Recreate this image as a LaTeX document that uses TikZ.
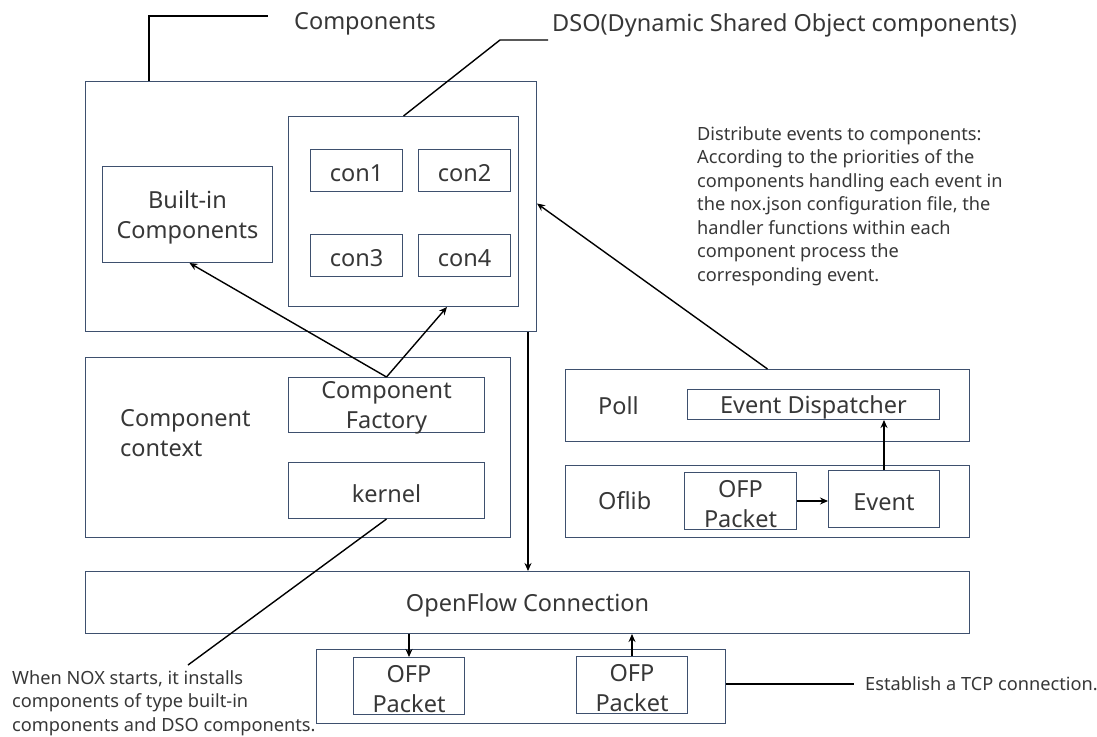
\documentclass[tikz,border=0pt]{standalone}
\usepackage{fontspec}
\setmainfont{Noto Sans}
\usetikzlibrary{arrows.meta,calc}
\definecolor{boxc}{RGB}{62,80,110}
\definecolor{txtc}{RGB}{55,55,55}
\begin{document}
\begin{tikzpicture}[x=1pt,y=-1pt,
  bx/.style={draw=boxc,line width=1pt,inner sep=0pt,anchor=north west},
  lbl/.style={inner sep=0pt,text=txtc,font=\fontsize{23.5}{30.5}\selectfont},
  tx/.style={label={[lbl,align=center,yshift=-3pt]center:#1}},
  note/.style={inner sep=0pt,text=txtc,align=left,font=\fontsize{18.2}{23.5}\selectfont},
  arr/.style={line width=1.4pt,-{Stealth[length=8pt,width=7pt]}},
  lead/.style={line width=1.4pt}]
\useasboundingbox (0,0) rectangle (1097,736);

% Components block
\node[bx,minimum width=451pt,minimum height=250pt] (comp) at (85,81) {};
\node[bx,minimum width=170pt,minimum height=96pt,tx={Built-in\\Components}] (builtin) at (102,166) {};
\node[bx,minimum width=230pt,minimum height=190pt] (dso) at (288,116) {};
\node[bx,minimum width=92pt,minimum height=42pt,tx=con1] (con1) at (310,149) {};
\node[bx,minimum width=92pt,minimum height=42pt,tx=con2] (con2) at (418,149) {};
\node[bx,minimum width=92pt,minimum height=42pt,tx=con3] (con3) at (310,234) {};
\node[bx,minimum width=92pt,minimum height=42pt,tx=con4] (con4) at (418,234) {};

% Component context block
\node[bx,minimum width=425pt,minimum height=180pt] (ctx) at (85,357) {};
\node[lbl,anchor=north west,align=left] (ctxl) at (120,409) {Component\\context};
\node[bx,minimum width=196pt,minimum height=55pt,tx={Component\\Factory}] (fac) at (288,377) {};
\node[bx,minimum width=196pt,minimum height=56pt,tx=kernel] (kern) at (288,462) {};

% Poll and Oflib blocks
\node[bx,minimum width=404pt,minimum height=72pt] (poll) at (565,369) {};
\node[lbl,anchor=west] (polll) at (598,406) {Poll};
\node[bx,minimum width=252pt,minimum height=30pt,tx={Event Dispatcher}] (disp) at (687,389) {};
\node[bx,minimum width=404pt,minimum height=72pt] (oflib) at (565,465) {};
\node[lbl,anchor=west] (oflibl) at (598,501) {Oflib};
\node[bx,minimum width=112pt,minimum height=57pt,tx={OFP\\Packet}] (ofp) at (684,472) {};
\node[bx,minimum width=111pt,minimum height=57pt,tx=Event] (event) at (828,470) {};

% OpenFlow connection and packets
\node[bx,minimum width=884pt,minimum height=62pt,tx={OpenFlow Connection}] (ofc) at (85,571) {};
\node[bx,minimum width=409pt,minimum height=74pt] (bot) at (316,649) {};
\node[bx,minimum width=111pt,minimum height=57pt,tx={OFP\\Packet}] (p1) at (353,657) {};
\node[bx,minimum width=111pt,minimum height=57pt,tx={OFP\\Packet}] (p2) at (576,656) {};

% Labels and notes
\node[lbl,anchor=base west] (compl) at (294,29) {Components};
\node[lbl,anchor=base west] (dsol) at (552,31) {DSO(Dynamic Shared Object components)};
\node[note,anchor=north west] (distr) at (697,126) {Distribute events to components:\\According to the priorities of the\\components handling each event in\\the nox.json configuration file, the\\handler functions within each\\component process the\\corresponding event.};
\node[note,anchor=north west] (nox) at (12,670) {When NOX starts, it installs\\components of type built-in\\components and DSO components.};
\node[note,anchor=base west] (tcp) at (865,690) {Establish a TCP connection.};

% Leader lines
\coordinate (c1) at (268,16);
\coordinate (c2) at (500,40);
\coordinate (c3) at (188,665);
\draw[lead] ([xshift=64pt]comp.north west) |- (c1);
\draw[lead] (dso.north) -- (c2) -- ([xshift=-4pt]dsol.west |- c2);
\draw[lead] (kern.south) -- (c3);
\draw[lead] (bot.east |- 0,684) -- ([xshift=-11pt]tcp.west |- 0,684);

% Arrows
\draw[arr] (fac.north) -- ([xshift=2pt]builtin.south);
\draw[arr] (fac.north) -- ([xshift=-72pt]dso.south east);
\draw[arr] ([xshift=-9pt]comp.south east) -- ([xshift=-9pt]comp.south east |- ofc.north);
\draw[arr] (poll.north) -- ([yshift=3pt]comp.east);
\draw[arr] (event.north) -- (event.north |- disp.south);
\draw[arr] (ofp.east) -- (event.west |- ofp.east);
\draw[arr] (p1.north |- ofc.south) -- (p1.north);
\draw[arr] (p2.north) -- (p2.north |- ofc.south);
\end{tikzpicture}
\end{document}
